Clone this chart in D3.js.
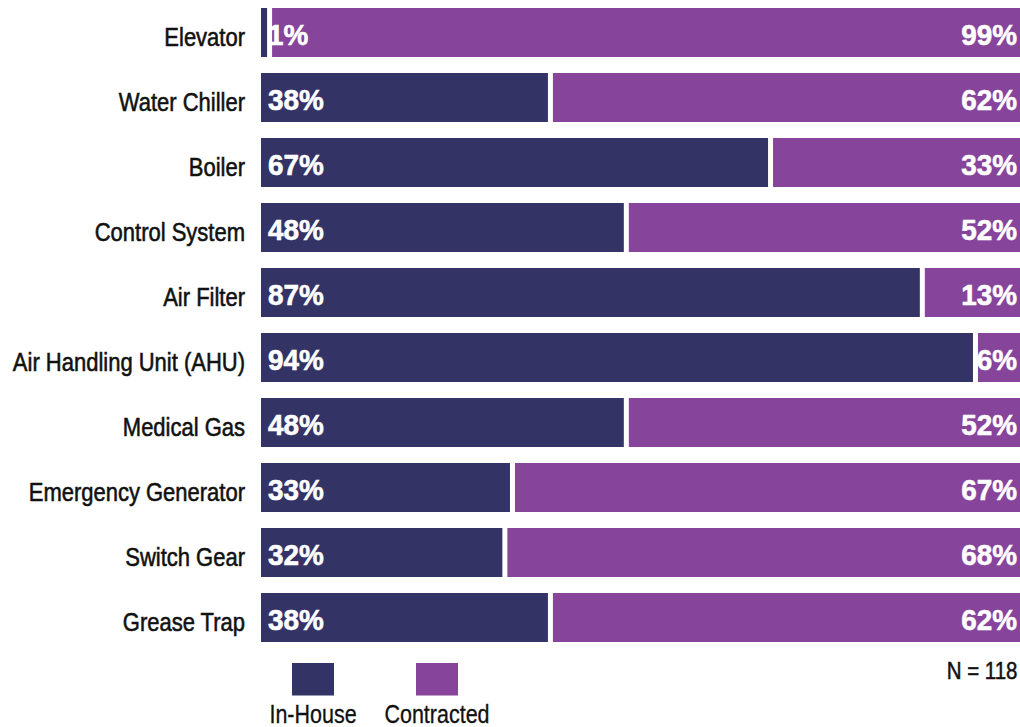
<!DOCTYPE html>
<html>
<head>
<meta charset="utf-8">
<script src="https://cdn.jsdelivr.net/npm/d3@7"></script>
<style>
  html, body { margin: 0; padding: 0; background: #fff; }
  svg { display: block; }
  text { font-family: "Liberation Sans", Arial, Helvetica, sans-serif; }
</style>
</head>
<body>
<svg id="chart" width="1020" height="727"></svg>
<script>
// Maintenance responsibility by equipment type (share of facilities)
const categories = [
  "Elevator", "Water Chiller", "Boiler", "Control System", "Air Filter",
  "Air Handling Unit (AHU)", "Medical Gas", "Emergency Generator",
  "Switch Gear", "Grease Trap"
];
const inHouse    = [1, 38, 67, 48, 87, 94, 48, 33, 32, 38];
const contracted = [99, 62, 33, 52, 13, 6, 52, 67, 68, 62];
const seriesNames = ["In-House", "Contracted"];
const colors = ["#333366", "#86449a"];
const sampleNote = "N = 118";

const svg = d3.select("#chart");

const x = d3.scaleLinear().domain([0, 100]).range([261, 1020]);
const y = d3.scaleBand().domain(categories).range([0, 650]).paddingInner(0.246).paddingOuter(0.123);

const gapLeft = 1.5;      // white gap before the segment boundary
const gapRight = 3.5;     // white gap after the segment boundary
const sxLabel = 0.88;     // condensed look for regular text
const sxBold = 0.93;      // condensed look for bold value labels

const rows = svg.append("g").selectAll("g")
  .data(categories.map((c, i) => ({ c, a: inHouse[i], b: contracted[i] })))
  .join("g");

// In-House segment
rows.append("rect")
  .attr("x", x(0))
  .attr("y", d => y(d.c))
  .attr("width", d => Math.max(2, x(d.a) - x(0) - gapLeft))
  .attr("height", y.bandwidth())
  .attr("fill", colors[0]);

// Contracted segment
rows.append("rect")
  .attr("x", d => x(d.a) + gapRight)
  .attr("y", d => y(d.c))
  .attr("width", d => x(d.a + d.b) - x(d.a) - gapRight)
  .attr("height", y.bandwidth())
  .attr("fill", colors[1]);

const mid = d => y(d.c) + y.bandwidth() / 2;

// Category labels
rows.append("text")
  .attr("transform", d => `translate(245,${mid(d) + 13}) scale(${sxLabel},1)`)
  .attr("text-anchor", "end")
  .attr("font-size", 25)
  .attr("fill", "#111")
  .attr("stroke", "#111")
  .attr("stroke-width", 0.55)
  .text(d => d.c);

// Value labels
rows.append("text")
  .attr("transform", d => `translate(${x(0) + 7},${mid(d) + 12.8}) scale(${sxBold},1)`)
  .attr("font-size", 30)
  .attr("font-weight", "bold")
  .attr("fill", "#fff")
  .attr("stroke", "#fff")
  .attr("stroke-width", 0.6)
  .text(d => d.a + "%");

rows.append("text")
  .attr("transform", d => `translate(${x(100) - 3},${mid(d) + 12.8}) scale(${sxBold},1)`)
  .attr("text-anchor", "end")
  .attr("font-size", 30)
  .attr("font-weight", "bold")
  .attr("fill", "#fff")
  .attr("stroke", "#fff")
  .attr("stroke-width", 0.6)
  .text(d => d.b + "%");

// Legend
const legendX = [313, 437];
const legend = svg.append("g").selectAll("g")
  .data(seriesNames.map((n, i) => ({ n, c: colors[i], cx: legendX[i] })))
  .join("g");

legend.append("rect")
  .attr("x", d => d.cx - 21)
  .attr("y", 663)
  .attr("width", 42)
  .attr("height", 32.5)
  .attr("fill", d => d.c);

legend.append("text")
  .attr("transform", d => `translate(${d.cx},723) scale(0.86,1)`)
  .attr("text-anchor", "middle")
  .attr("font-size", 25)
  .attr("fill", "#111")
  .attr("stroke", "#111")
  .attr("stroke-width", 0.3)
  .text(d => d.n);

svg.append("text")
  .attr("transform", `translate(1017.5,679) scale(0.89,1)`)
  .attr("text-anchor", "end")
  .attr("font-size", 23)
  .attr("fill", "#111")
  .attr("stroke", "#111")
  .attr("stroke-width", 0.5)
  .text(sampleNote);
</script>
</body>
</html>
